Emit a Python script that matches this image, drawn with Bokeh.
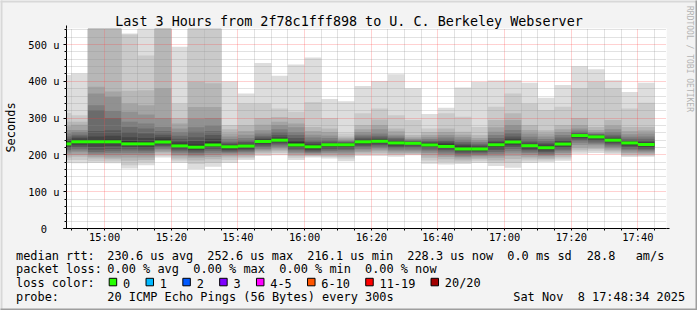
import math
from bokeh.plotting import figure
from bokeh.models import ColumnDataSource, FixedTicker, Range1d
from bokeh.core.properties import value
from bokeh.embed import file_html
from bokeh.resources import INLINE

# ---------------- data ----------------
slots = ["14:45", "14:50", "14:55", "15:00", "15:05", "15:10", "15:15", "15:20", "15:25", "15:30",
         "15:35", "15:40", "15:45", "15:50", "15:55", "16:00", "16:05", "16:10", "16:15", "16:20",
         "16:25", "16:30", "16:35", "16:40", "16:45", "16:50", "16:55", "17:00", "17:05", "17:10",
         "17:15", "17:20", "17:25", "17:30", "17:35", "17:40"]

# sorted ping rtts per 5-minute slot (microseconds), fastest (ping01) to slowest (ping20)
ping01 = [178, 177, 178, 177, 163, 172, 193, 178, 162, 168, 178, 186, 197, 199, 186, 193, 190, 183, 197, 197, 195, 199, 176, 174, 175, 178, 170, 165, 178, 180, 184, 203, 205, 202, 194, 195]
ping02 = [186, 186, 183, 182, 172, 180, 198, 185, 175, 178, 186, 191, 202, 205, 192, 196, 194, 190, 201, 202, 199, 201, 185, 181, 180, 184, 178, 178, 185, 185, 190, 209, 211, 206, 198, 198]
ping03 = [193, 195, 190, 188, 184, 186, 204, 190, 185, 188, 193, 195, 206, 210, 197, 198, 197, 195, 204, 206, 202, 203, 192, 188, 185, 189, 185, 189, 190, 189, 195, 214, 216, 210, 201, 201]
ping04 = [199, 200, 195, 193, 193, 193, 208, 196, 192, 194, 198, 199, 210, 214, 201, 200, 201, 199, 208, 211, 206, 206, 199, 194, 190, 193, 192, 197, 195, 193, 200, 220, 221, 214, 205, 204]
ping05 = [204, 207, 200, 199, 200, 199, 212, 200, 196, 200, 202, 203, 214, 218, 205, 203, 205, 204, 212, 215, 210, 210, 205, 199, 194, 197, 198, 204, 200, 197, 205, 227, 226, 218, 209, 207]
ping06 = [209, 212, 204, 205, 206, 205, 216, 206, 200, 206, 205, 207, 217, 222, 209, 205, 209, 209, 216, 219, 214, 214, 210, 204, 198, 200, 203, 210, 205, 200, 210, 233, 230, 222, 213, 211]
ping07 = [213, 217, 208, 210, 212, 210, 220, 210, 205, 211, 208, 210, 221, 226, 213, 208, 212, 213, 220, 223, 218, 218, 214, 209, 202, 204, 208, 216, 209, 204, 214, 238, 234, 226, 217, 214]
ping08 = [218, 221, 214, 216, 217, 215, 224, 214, 209, 216, 211, 213, 225, 230, 217, 211, 216, 217, 224, 227, 221, 222, 218, 213, 206, 207, 213, 221, 213, 208, 218, 242, 238, 230, 221, 217]
ping09 = [222, 226, 222, 224, 222, 220, 228, 218, 213, 221, 214, 217, 229, 234, 221, 214, 220, 221, 228, 231, 225, 226, 222, 218, 210, 210, 218, 226, 217, 212, 222, 246, 242, 234, 225, 220]
ping10 = [228, 232, 232, 233, 228, 226, 234, 222, 218, 226, 218, 221, 234, 238, 226, 218, 224, 226, 232, 235, 229, 229, 226, 222, 214, 214, 223, 231, 221, 216, 227, 250, 246, 238, 229, 224]
ping11 = [234, 240, 240, 241, 238, 236, 242, 230, 228, 236, 224, 227, 240, 244, 235, 226, 229, 230, 238, 240, 236, 233, 231, 229, 222, 220, 230, 239, 227, 224, 233, 254, 251, 243, 234, 231]
ping12 = [238, 245, 250, 252, 248, 246, 248, 236, 238, 244, 228, 230, 243, 248, 240, 230, 232, 232, 241, 243, 239, 235, 233, 233, 226, 223, 235, 244, 231, 228, 237, 256, 253, 246, 237, 235]
ping13 = [244, 250, 265, 267, 262, 258, 255, 244, 248, 254, 232, 235, 247, 254, 246, 235, 236, 234, 245, 247, 242, 237, 236, 237, 230, 226, 240, 250, 236, 232, 241, 259, 255, 250, 240, 239]
ping14 = [250, 255, 322, 300, 276, 272, 265, 252, 263, 265, 236, 240, 252, 262, 254, 240, 240, 236, 250, 252, 246, 239, 239, 241, 235, 230, 246, 258, 242, 237, 247, 262, 257, 255, 244, 244]
ping15 = [258, 262, 335, 319, 290, 285, 276, 262, 275, 280, 243, 246, 258, 270, 262, 247, 246, 238, 255, 258, 250, 241, 243, 247, 241, 235, 254, 268, 249, 243, 254, 266, 259, 262, 249, 250]
ping16 = [268, 268, 367, 358, 317, 310, 300, 272, 299, 300, 250, 255, 267, 281, 275, 255, 253, 241, 262, 270, 255, 244, 248, 254, 248, 240, 263, 281, 258, 250, 262, 272, 262, 270, 256, 258]
ping17 = [278, 282, 385, 372, 340, 335, 381, 285, 330, 330, 258, 265, 282, 290, 285, 265, 262, 245, 270, 281, 264, 248, 254, 262, 255, 246, 275, 295, 268, 258, 270, 281, 268, 280, 265, 266]
ping18 = [290, 290, 560, 560, 374, 376, 580, 300, 399, 395, 270, 281, 300, 303, 300, 276, 272, 250, 281, 296, 272, 254, 262, 272, 263, 254, 295, 313, 281, 267, 281, 300, 276, 295, 276, 276]
ping19 = [314, 308, 580, 580, 527, 470, 600, 340, 580, 580, 281, 340, 340, 326, 317, 344, 300, 258, 313, 326, 308, 295, 272, 313, 304, 276, 331, 367, 340, 322, 331, 382, 399, 381, 326, 342]
ping20 = [417, 421, 600, 600, 530, 560, 620, 494, 600, 600, 400, 367, 450, 415, 446, 465, 352, 346, 387, 401, 419, 381, 311, 328, 383, 399, 402, 403, 396, 355, 390, 441, 433, 403, 371, 396]

median_rtt = [230, 235.6, 235.6, 235.6, 230, 230, 235, 224.5, 221, 227,
              222, 224, 236.5, 240, 227, 222, 227.5, 227.5, 235.5, 237,
              232.5, 231.5, 227, 223, 216.1, 216.1, 227.5, 235, 225, 219.5,
              229.5, 252.6, 249, 240, 232.5, 228.3]

x_tick_times = ["15:00", "15:20", "15:40", "16:00", "16:20", "16:40", "17:00", "17:20", "17:40"]
y_tick_values = [0, 100, 200, 300, 400, 500]
y_tick_labels = ["0\u00a0\u00a0", "100 u", "200 u", "300 u", "400 u", "500 u"]

loss_labels = ["0", "1", "2", "3", "4-5", "6-10", "11-19", "20/20"]
loss_colors = ["#26ff00", "#00b8ff", "#0059ff", "#7e00ff", "#ff00ff", "#ff5500", "#ff0000", "#a10000"]

title_text = "Last 3 Hours from 2f78c1fff898 to U. C. Berkeley Webserver"
rtt_stats = ["230.6 us avg", "252.6 us max", "216.1 us min", "228.3 us now", "0.0 ms sd", "28.8", "am/s"]
loss_stats = ["0.00 % avg", "0.00 % max", "0.00 % min", "0.00 % now"]
probe_text = "20 ICMP Echo Pings (56 Bytes) every 300s"
stamp_text = "Sat Nov \u00a08 17:48:34 2025"

# ---------------- layout constants ----------------
W, H = 697, 310
FL, FR, FT, FB = 66, 666, 28, 228
FONT = "DejaVu Sans Mono"


def minutes(hhmm):
    h, m = hhmm.split(":")
    return (int(h) - 14) * 60 + int(m)


t0 = minutes("14:48") + 34 / 60.0
t1 = minutes("17:48") + 34 / 60.0
YMAX = 543.5
px_per_min = (FR - FL) / (t1 - t0)
px_per_u = (FB - FT) / YMAX


def cx(px):  # canvas pixel -> data x (for decorations outside the frame)
    return t0 + (px - FL) / px_per_min


def cy(py):  # canvas pixel -> data y
    return (FB - py) / px_per_u


p = figure(width=W, height=H, x_range=Range1d(t0, t1), y_range=Range1d(0, YMAX),
           output_backend="svg", toolbar_location=None,
           min_border_left=FL, min_border_right=W - FR,
           min_border_top=FT, min_border_bottom=H - FB)
p.border_fill_color = "#f3f3f3"
p.background_fill_color = "#ffffff"
p.outline_line_color = None

# ---------------- smoke ----------------
pings = [ping01, ping02, ping03, ping04, ping05, ping06, ping07, ping08, ping09, ping10,
         ping11, ping12, ping13, ping14, ping15, ping16, ping17, ping18, ping19, ping20]
starts = [minutes(s) for s in slots]
ends = [s + 5 for s in starts]

L, R, B, T, C = [], [], [], [], []
half = 10
for i in range(1, half + 1):
    g = int(190 / half * (half - i)) + 50
    col = "#%02x%02x%02x" % (g, g, g)
    lo = pings[i - 1]
    hi = pings[20 - i]
    for k in range(len(slots)):
        L.append(starts[k]); R.append(ends[k]); B.append(lo[k]); T.append(hi[k]); C.append(col)
smoke = ColumnDataSource(dict(left=L, right=R, bottom=B, top=T, color=C))
p.quad(left="left", right="right", bottom="bottom", top="top", fill_color="color",
       line_color=None, source=smoke)

# median band (overlay level is not clipped, so clip to the x range by hand)
med = ColumnDataSource(dict(x0=[max(s, t0) for s in starts], x1=ends, y=median_rtt))
p.segment(x0="x0", x1="x1", y0="y", y1="y", line_color=loss_colors[0], line_width=3,
          source=med, level="overlay")

# ---------------- axes & grid ----------------
xt = [minutes(t) for t in x_tick_times]
xm = [v for v in range(50, 230, 5) if v not in xt]
p.xaxis.ticker = FixedTicker(ticks=xt, minor_ticks=xm)
p.xaxis.major_label_overrides = {v: t for v, t in zip(xt, x_tick_times)}
ym = [v for v in range(20, 545, 20) if v not in y_tick_values]
p.yaxis.ticker = FixedTicker(ticks=y_tick_values, minor_ticks=ym)
p.yaxis.major_label_overrides = {v: t for v, t in zip(y_tick_values, y_tick_labels)}

for ax in (p.xaxis[0], p.yaxis[0]):
    ax.axis_line_color = "black"
    ax.major_tick_line_color = "black"
    ax.minor_tick_line_color = "black"
    ax.major_label_text_font = FONT
    ax.major_label_text_font_size = "10.4px"
    ax.major_label_text_color = "black"
    ax.major_tick_in = 0
    ax.minor_tick_in = 0
p.xaxis.major_tick_out = 2
p.xaxis.minor_tick_out = 2
p.xaxis.major_label_standoff = 0
p.yaxis.major_tick_out = 3
p.yaxis.minor_tick_out = 2
p.yaxis.major_label_standoff = 4

for g in (p.xgrid[0], p.ygrid[0]):
    g.grid_line_color = "#ff3030"
    g.grid_line_alpha = 0.45
    g.grid_line_dash = "1 1"
    g.minor_grid_line_color = "#8c8c8c"
    g.minor_grid_line_alpha = 0.5
    g.minor_grid_line_dash = "1 1"
    g.level = "annotation"

# ---------------- decorations outside the frame (overlay glyphs) ----------------
ARROW = "#7f0000"
# axis line extensions + arrow heads
p.segment(x0=[t0, t1, cx(FL - 3)], y0=[YMAX, 0, 0], x1=[t0, cx(FR + 3), t0], y1=[cy(FT - 3), 0, 0],
          line_color="black", line_width=1, level="overlay")
p.patches(xs=[[cx(FL - 3), cx(FL + 3), cx(FL)], [cx(FR + 2), cx(FR + 2), cx(FR + 8)]],
          ys=[[cy(FT - 2), cy(FT - 2), cy(FT - 7)], [cy(FB - 3), cy(FB + 3), cy(FB)]],
          fill_color=ARROW, line_color=ARROW, line_width=0.5, level="overlay")

# 3D frame of the image
frame_l = [0, 0, 0, W - 2]
frame_r = [W, 2, W, W]
frame_t = [0, 0, H - 2, 0]
frame_b = [2, H, H, H]
p.quad(left=[cx(v) for v in frame_l], right=[cx(v) for v in frame_r],
       top=[cy(v) for v in frame_t], bottom=[cy(v) for v in frame_b],
       fill_color=["#d8d8d8", "#d8d8d8", "#9e9e9e", "#9e9e9e"], line_color=None,
       level="overlay")

BASE_SHIFT = 0.24  # text glyphs sit about this many em below the requested baseline


def txt(strings, xs, ys, size_px, align="left", baseline="alphabetic", angle=0.0, color="black"):
    shift = BASE_SHIFT * size_px if baseline == "alphabetic" else 0.0
    p.text(x=[cx(v) for v in xs], y=[cy(v - shift) for v in ys], text=strings,
           text_font=value(FONT), text_font_size=value("%gpx" % size_px), text_align=align,
           text_baseline=baseline, text_line_height=1.0, angle=angle,
           text_color=color, level="overlay")


txt([title_text], [348.5], [24], 13.4, align="center")
txt(["Seconds"], [10.5], [127], 11.9, align="center", baseline="middle", angle=math.pi / 2)
txt(["RRDTOOL / TOBI OETIKER"], [688.5], [58.5], 8, align="center", baseline="middle",
    angle=-math.pi / 2, color="#b4b4b4")

LS = 11.9
L1, L2, L3, L4 = 258.2, 271.8, 285.6, 299.3
txt(["median rtt:"] + rtt_stats, [15.5, 106.8, 206.8, 306.8, 406.8, 506.8, 586.2, 635.2],
    [L1] * 8, LS)
txt(["packet loss:"] + loss_stats, [15.5, 106.8, 192.8, 278.8, 364.5], [L2] * 5, LS)
bl, tl = [], []
bx = 108.7
for lab in loss_labels:
    bl.append(bx)
    tl.append(bx + 13.8)
    bx = bx + 14.3 + len(lab) * 7.12 + 15.4
p.quad(left=[cx(v) for v in bl], right=[cx(v + 7.5) for v in bl],
       top=[cy(277.8)] * len(bl), bottom=[cy(285.3)] * len(bl),
       fill_color=loss_colors, line_color="black", line_width=1, level="overlay")
txt(["loss color:"] + loss_labels, [15.5] + tl, [L3] * (len(tl) + 1), LS)
txt(["probe:", probe_text, stamp_text], [15.5, 106.8, 512.8], [L4] * 3, LS)

open("out.html", "w").write(file_html(p, INLINE))
